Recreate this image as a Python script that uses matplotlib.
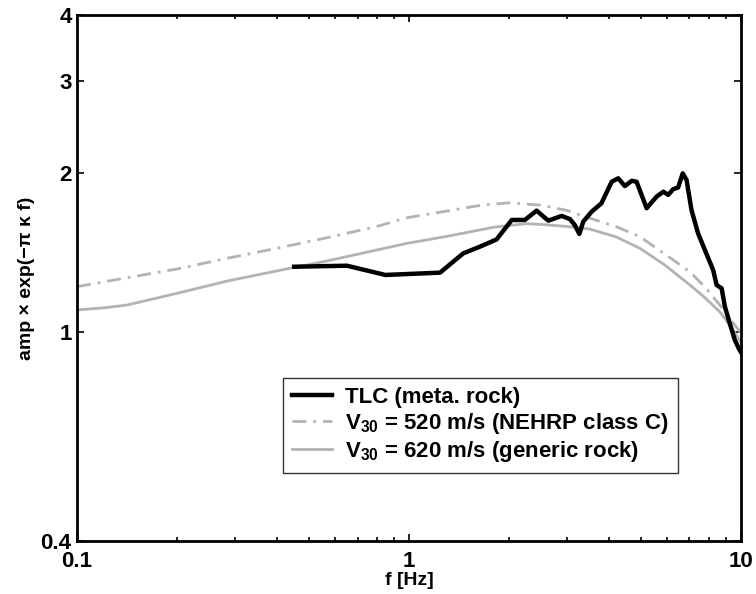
import numpy as np
import matplotlib
matplotlib.use('Agg')
import matplotlib.pyplot as plt
from matplotlib.ticker import FixedLocator, NullFormatter, LogLocator

# TLC (meta. rock) observed amplification
f_tlc = [0.451, 0.65, 0.849, 1.24, 1.457, 1.636, 1.837, 2.04, 2.235, 2.424, 2.628,
         2.884, 3.055, 3.16, 3.26, 3.35, 3.55, 3.80, 4.08, 4.27, 4.47, 4.69, 4.85,
         5.20, 5.57, 5.84, 6.04, 6.25, 6.47, 6.68, 6.86, 7.10, 7.43, 7.79, 8.25,
         8.45, 8.75, 8.95, 9.26, 9.59, 9.88, 10.0]
a_tlc = [1.329, 1.335, 1.282, 1.295, 1.409, 1.451, 1.498, 1.631, 1.631, 1.699, 1.626,
         1.66, 1.637, 1.595, 1.534, 1.619, 1.691, 1.754, 1.928, 1.957, 1.892, 1.936, 1.928,
         1.717, 1.806, 1.846, 1.82, 1.866, 1.88, 2.0, 1.943, 1.703, 1.538, 1.43, 1.31,
         1.227, 1.209, 1.116, 1.037, 0.964, 0.926, 0.915]

# V30 = 520 m/s (NEHRP class C)
f_520 = [0.1, 0.14, 0.2, 0.283, 0.4, 0.566, 0.8, 0.986, 1.33, 1.65, 2.0, 2.48,
         3.0, 3.51, 4.2, 4.96, 5.9, 7.02, 7.8, 8.64, 9.3, 10.0]
a_520 = [1.218, 1.265, 1.316, 1.379, 1.441, 1.509, 1.585, 1.647, 1.70, 1.74, 1.758, 1.741,
         1.70, 1.643, 1.585, 1.516, 1.405, 1.30, 1.215, 1.124, 1.055, 0.995]

# V30 = 620 m/s (generic rock)
f_620 = [0.1, 0.12, 0.1415, 0.2, 0.283, 0.4, 0.566, 0.8, 0.986, 1.33, 1.8, 2.26, 2.48,
         3.0, 3.51, 4.2, 4.96, 5.9, 7.02, 7.8, 8.64, 9.3, 10.0]
a_620 = [1.10, 1.11, 1.124, 1.183, 1.248, 1.305, 1.363, 1.43, 1.472, 1.522, 1.58, 1.605, 1.60,
         1.585, 1.567, 1.515, 1.441, 1.339, 1.227, 1.16, 1.091, 1.025, 0.955]

labels = ['TLC (meta. rock)',
          'V$_{\\mathregular{30}}$ = 520 m/s (NEHRP class C)',
          'V$_{\\mathregular{30}}$ = 620 m/s (generic rock)']
y_ticks = [0.4, 1, 2, 3, 4]
x_ticks = [0.1, 1, 10]

plt.rcParams['font.family'] = ['Liberation Sans', 'DejaVu Sans']
plt.rcParams['font.weight'] = 'bold'
plt.rcParams['mathtext.fontset'] = 'custom'
plt.rcParams['mathtext.rm'] = 'Liberation Sans:bold'
plt.rcParams['mathtext.bf'] = 'Liberation Sans:bold'
plt.rcParams['mathtext.default'] = 'bf'

fig = plt.figure(figsize=(7.56, 5.94), dpi=100)
ax = fig.add_axes([0.102, 0.0892, 0.878, 0.8855])

gray = '#b3b3b3'
ax.plot(f_tlc, a_tlc, color='black', lw=3.2, label=labels[0], zorder=3)
ax.plot(f_520, a_520, color=gray, lw=2.0, dashes=[5, 2.5, 1, 2.5], label=labels[1])
ax.plot(f_620, a_620, color=gray, lw=2.0, label=labels[2])

ax.set_xscale('log')
ax.set_yscale('log')
ax.set_xlim(0.1, 10)
ax.set_ylim(0.4, 4)

ax.xaxis.set_major_locator(FixedLocator(x_ticks))
ax.set_xticklabels(['0.1', '1', '10'])
ax.xaxis.set_minor_locator(LogLocator(base=10, subs=np.arange(2, 10)))
ax.xaxis.set_minor_formatter(NullFormatter())
ax.yaxis.set_major_locator(FixedLocator(y_ticks))
ax.set_yticklabels(['0.4', '1', '2', '3', '4'])
ax.yaxis.set_minor_locator(FixedLocator([]))

ax.tick_params(which='both', direction='in', top=True, right=True, width=1.2)
ax.tick_params(which='major', length=5, labelsize=16)
ax.tick_params(axis='x', which='major', pad=7)
ax.tick_params(axis='y', which='major', pad=4)
ax.tick_params(which='minor', length=3)
for s in ax.spines.values():
    s.set_linewidth(2)

ax.set_xlabel('f [Hz]', fontsize=14, fontweight='bold', labelpad=0)
ax.set_ylabel('amp \u00d7 exp(\u2212\u03c0 \u03ba f)', fontsize=14, fontweight='bold', labelpad=4)

leg = ax.legend(loc='lower left', bbox_to_anchor=(0.31, 0.129), fontsize=16,
                frameon=True, fancybox=False, handlelength=1.8, labelspacing=0.15,
                borderpad=0.4, handletextpad=0.6, borderaxespad=0)
leg.get_frame().set_edgecolor('black')
leg.get_frame().set_linewidth(1.0)

fig.savefig('out.png', dpi=100)
